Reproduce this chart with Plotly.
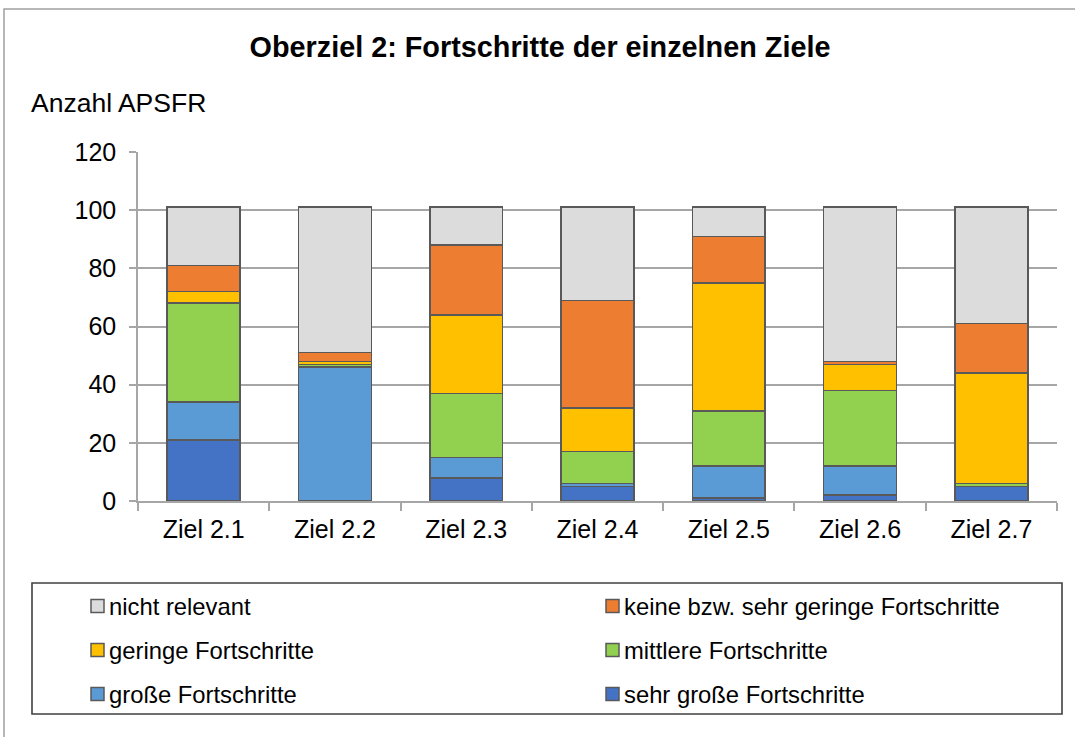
import plotly.graph_objects as go

# Ziele and number of APSFR per progress category
categories = ["Ziel 2.1", "Ziel 2.2", "Ziel 2.3", "Ziel 2.4", "Ziel 2.5", "Ziel 2.6", "Ziel 2.7"]
sehr_grosse = [21, 0, 8, 5, 1, 2, 5]
grosse = [13, 46, 7, 1, 11, 10, 0]
mittlere = [34, 1, 22, 11, 19, 26, 1]
geringe = [4, 1, 27, 15, 44, 9, 38]
keine = [9, 3, 24, 37, 16, 1, 17]
nicht_relevant = [20, 50, 13, 32, 10, 53, 40]
y_ticks = [0, 20, 40, 60, 80, 100, 120]

# stacking order, bottom to top
series = [
    ("sehr große Fortschritte", sehr_grosse, "#4472C4"),
    ("große Fortschritte", grosse, "#5B9BD5"),
    ("mittlere Fortschritte", mittlere, "#92D050"),
    ("geringe Fortschritte", geringe, "#FFC000"),
    ("keine bzw. sehr geringe Fortschritte", keine, "#ED7D31"),
    ("nicht relevant", nicht_relevant, "#DCDCDC"),
]

W, H = 1075, 737
L, R, T, B = 138, 1057, 152, 501  # plot area in pixels
FONT = "Liberation Sans, Arial, sans-serif"
EDGE = "#595959"


def px_x(px):
    return (px - L) / (R - L)


def px_y(py):
    return (B - py) / (B - T)


fig = go.Figure()
for name, vals, color in series:
    fig.add_trace(go.Bar(
        x=categories, y=vals, name=name, width=0.555,
        marker=dict(color=color, line=dict(color=EDGE, width=1.6)),
        showlegend=False,
    ))

shapes = []
annotations = []

# outer chart frame
shapes.append(dict(type="rect", xref="paper", yref="paper",
                   x0=px_x(4), x1=px_x(1090), y0=px_y(9), y1=px_y(760),
                   line=dict(color="#A0A0A0", width=1.5), fillcolor="rgba(0,0,0,0)",
                   layer="below"))

# legend frame
shapes.append(dict(type="rect", xref="paper", yref="paper",
                   x0=px_x(32), x1=px_x(1062), y0=px_y(583), y1=px_y(714),
                   line=dict(color="#404040", width=1.6), fillcolor="rgba(0,0,0,0)"))

# legend entries, row-wise in two columns
legend_order = [5, 4, 3, 2, 1, 0]
col_x = [91, 606]
row_y = [606, 650, 694]
for k, idx in enumerate(legend_order):
    name, _, color = series[idx]
    cx = col_x[k % 2]
    cy = row_y[k // 2]
    shapes.append(dict(type="rect", xref="paper", yref="paper",
                       x0=px_x(cx), x1=px_x(cx + 13), y0=px_y(cy - 6.5), y1=px_y(cy + 6.5),
                       line=dict(color=EDGE, width=1.5), fillcolor=color))
    annotations.append(dict(xref="paper", yref="paper", x=px_x(cx + 16), y=px_y(cy),
                            xanchor="left", yanchor="middle", showarrow=False,
                            text=name, font=dict(family=FONT, size=23.8, color="#000000")))

# axis title above the y axis
annotations.append(dict(xref="paper", yref="paper", x=px_x(29), y=px_y(103),
                        xanchor="left", yanchor="middle", showarrow=False,
                        text="Anzahl APSFR", font=dict(family=FONT, size=26.5, color="#000000")))

fig.update_layout(
    width=W, height=H,
    margin=dict(l=L, r=W - R, t=T, b=H - B, pad=0),
    barmode="stack",
    paper_bgcolor="white", plot_bgcolor="white",
    title=dict(text="<b>Oberziel 2: Fortschritte der einzelnen Ziele</b>",
               x=px_x(540), xref="paper", xanchor="center",
               y=1 - 47 / H, yanchor="middle",
               font=dict(family=FONT, size=28.8, color="#000000")),
    font=dict(family=FONT, color="#000000"),
    shapes=shapes,
    annotations=annotations,
    showlegend=False,
)

fig.update_yaxes(
    range=[0, 120], tickvals=y_ticks, ticktext=[str(v) for v in y_ticks],
    showgrid=True, gridcolor="#A6A6A6", gridwidth=1.5,
    showline=True, linecolor="#A6A6A6", linewidth=1.5,
    ticks="outside", ticklen=7, tickcolor="#A6A6A6", tickwidth=1.5,
    ticklabelstandoff=8,
    tickfont=dict(family=FONT, size=25, color="#000000"),
    zeroline=False, fixedrange=True,
)
fig.update_xaxes(
    showgrid=False, showline=True, linecolor="#A6A6A6", linewidth=1.5,
    ticks="outside", ticklen=8, tickcolor="#A6A6A6", tickwidth=1.5,
    tickson="boundaries",
    ticklabelstandoff=5,
    tickfont=dict(family=FONT, size=25, color="#000000"),
    fixedrange=True,
)

fig.write_html("out.html")
